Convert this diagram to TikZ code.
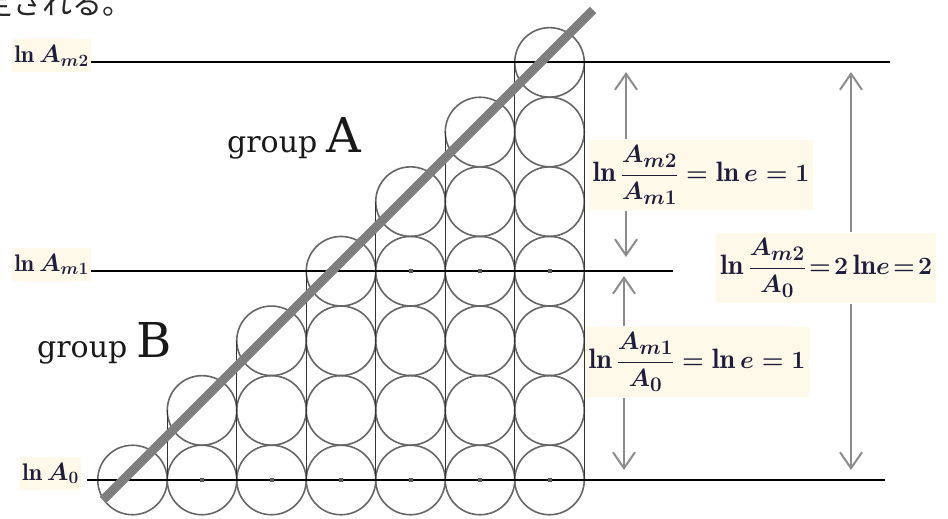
\documentclass[tikz,border=0pt]{standalone}
\usepackage{fontspec}
\newfontfamily\jpfont{Noto Sans CJK JP}
\newfontfamily\grpfont{DejaVu Serif}
\usepackage{tikz}
\usetikzlibrary{arrows.meta}
\definecolor{inkc}{HTML}{1E1E3C}
\definecolor{creambg}{HTML}{FFF9EA}
\definecolor{circc}{HTML}{666666}
\definecolor{barc}{HTML}{7F7F7F}
\definecolor{arrowc}{HTML}{8C8C8C}
\tikzset{
  ar/.style={-{Straight Barb[length=16pt,width=22pt]},line width=2pt,arrowc},
  lbl/.style={fill=creambg,text=inkc,inner xsep=2pt,inner ysep=6pt,font=\fontsize{24}{28}\selectfont\boldmath},
  eqbox/.style={fill=creambg,text=inkc,inner xsep=4pt,inner ysep=6pt,font=\fontsize{28}{32}\selectfont\boldmath},
  grp/.style={anchor=base west,inner sep=0pt,text=black!90,font=\grpfont\fontsize{30}{36}\selectfont},
  circ/.style={circc,line width=1.6pt},
  col/.style={black!80,line width=1.4pt},
  hl/.style={black,line width=2pt}
}

\begin{document}
\begin{tikzpicture}[x=1pt,y=-1pt]
\clip (0,0) rectangle (948,519);
\fill[white] (0,0) rectangle (948,519);
% stacked columns of circles
\foreach \k in {0,...,6}{
  \pgfmathsetmacro\cx{132.5+69.5*\k}
  \pgfmathsetmacro\ty{480-69.6*\k}
  \foreach \j in {0,...,\k}{
    \draw[circ] (\cx,{480-69.6*\j}) circle[radius=34.75];
  }
  \draw[col] ({\cx-34.75},\ty) -- ({\cx-34.75},480);
  \draw[col] ({\cx+34.75},\ty) -- ({\cx+34.75},480);
}
% levels
\node[lbl,anchor=base east] (lm2) at (91,62.4) {$\ln A_{m2}$};
\node[lbl,anchor=base east] (lm1) at (91,271.2) {$\ln A_{m1}$};
\node[lbl,anchor=base east] (l0) at (81,480) {$\ln A_0$};
\coordinate (e2) at (890,62.4);
\coordinate (e1) at (673,271.2);
\coordinate (s0) at (87,480);
\coordinate (e0) at (885,480);
\draw[hl] (lm2.base east) -- (e2);
\draw[hl] (lm1.base east) -- (e1);
\draw[hl] (s0) -- (e0);
\foreach \k in {1,...,6}{\fill[black!65] ({130.5+69.5*\k},478) rectangle ++(4,4);}
\foreach \k in {4,5,6}{\fill[black!65] ({130.5+69.5*\k},269.2) rectangle ++(4,4);}
% diagonal
\draw[barc,line width=9pt] (103,500) -- (593,10);
\node[grp] (grpA) at (227,152) {group \fontsize{48}{52}\selectfont A};
\node[grp] (grpB) at (37,357) {group \fontsize{48}{52}\selectfont B};
% differences
\node[eqbox] (r1) at (701,175) {$\displaystyle\ln\frac{A_{m2}}{A_{m1}}=\ln e=1$};
\node[eqbox,anchor=west] (r2) at (716,268) {$\displaystyle\ln\frac{A_{m2}}{A_0}\!=\!2\ln\!e\!=\!2$};
\node[eqbox] (r3) at (697,362) {$\displaystyle\ln\frac{A_{m1}}{A_0}=\ln e=1$};
\coordinate (u1) at (626,72);
\coordinate (d1) at (626,257);
\coordinate (u3) at (624,276);
\coordinate (d3) at (624,470);
\coordinate (u2) at (851,72);
\coordinate (d2) at (851,470);
\draw[ar] (r1.north -| u1) -- (u1);
\draw[ar] (r1.south -| d1) -- (d1);
\draw[ar] (r3.north -| u3) -- (u3);
\draw[ar] (r3.south -| d3) -- (d3);
\draw[ar] (r2.north -| u2) -- (u2);
\draw[ar] (r2.south -| d2) -- (d2);
\node[anchor=base west,inner sep=0pt,text=black!85,font=\jpfont\fontsize{30}{34}\selectfont] (jp) at (-18,15) {定される。};
\end{tikzpicture}
\end{document}
